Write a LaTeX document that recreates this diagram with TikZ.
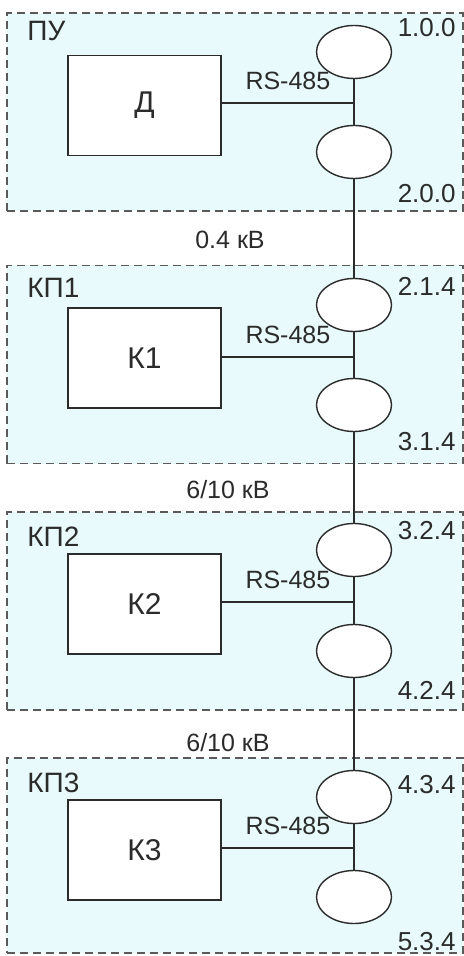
\documentclass[tikz,border=0pt]{standalone}
\usepackage{fontspec}
\setmainfont{Liberation Sans}
\usepackage{tikz}
\usetikzlibrary{shapes.geometric,positioning}
\usepackage{xcolor}
\definecolor{panelcyan}{HTML}{E8FAFC}
\definecolor{panelgray}{HTML}{5A5A5A}
\definecolor{inkgray}{HTML}{2B2B2B}

\begin{document}
\begin{tikzpicture}[
  x=0.5pt, y=-0.5pt,
  panel/.style={draw=panelgray, fill=panelcyan, line width=0.8pt,
    dash pattern=on 4pt off 2.5pt, minimum width=228pt, minimum height=99pt,
    inner sep=0pt},
  unit/.style={draw=inkgray, fill=white, line width=0.8pt,
    minimum width=76.5pt, minimum height=50pt, inner sep=0pt,
    font=\fontsize{15}{17}\selectfont, text=inkgray},
  modem/.style={ellipse, draw=inkgray, fill=white, line width=0.7pt,
    minimum width=37.5pt, minimum height=26.5pt, inner sep=0pt},
  title/.style={anchor=west, inner sep=0pt, font=\fontsize{14}{16}\selectfont,
    text=inkgray},
  addr/.style={anchor=east, inner sep=0pt, font=\fontsize{13}{15}\selectfont,
    text=inkgray},
  tag/.style={inner sep=0pt, font=\fontsize{12.5}{14}\selectfont, text=inkgray},
  wire/.style={draw=inkgray, line width=0.8pt}
]
\useasboundingbox (0,0) rectangle (464,956);
% panels
\node[panel] (pu) at (235,112) {};
\node[panel] (kp1) at (235,364.5) {};
\node[panel] (kp2) at (235,611) {};
\node[panel, minimum height=97.5pt] (kp3) at (235,855.5) {};
\node[title] (pulabel) at (27,31) {ПУ};
\node[title] (kp1label) at (27,288) {КП1};
\node[title] (kp2label) at (27,537) {КП2};
\node[title] (kp3label) at (27,783) {КП3};
% units and modems
\node[unit] (d) at (144.5,105.5) {Д};
\node[unit] (k1) at (144.5,358) {К1};
\node[unit] (k2) at (144.5,604) {К2};
\node[unit] (k3) at (144.5,850) {К3};
\node[modem] (m100) at (354,52) {};
\node[modem] (m200) at (354,152) {};
\node[modem] (m214) at (354,305) {};
\node[modem] (m314) at (354,405) {};
\node[modem] (m324) at (354,550) {};
\node[modem] (m424) at (354,651) {};
\node[modem] (m434) at (354,797) {};
\node[modem] (m534) at (354,897) {};
\node[addr] (a100) at (456,28) {1.0.0};
\node[addr] (a200) at (456,194) {2.0.0};
\node[addr] (a214) at (456,286) {2.1.4};
\node[addr] (a314) at (456,442) {3.1.4};
\node[addr] (a324) at (456,531) {3.2.4};
\node[addr] (a424) at (456,690) {4.2.4};
\node[addr] (a434) at (456,785) {4.3.4};
\node[addr] (a534) at (456,942) {5.3.4};
% junctions on the bus
\coordinate (jpu) at (354,103);
\coordinate (jkp1) at (354,357);
\coordinate (jkp2) at (354,602);
\coordinate (jkp3) at (354,848);
\draw[wire] (m100.south) -- (m200.north);
\draw[wire] (m200.south) -- node[tag, pos=0.62, xshift=-62pt] {0.4 кВ} (m214.north);
\draw[wire] (m214.south) -- (m314.north);
\draw[wire] (m314.south) -- node[tag, pos=0.63, xshift=-63pt] {6/10 кВ} (m324.north);
\draw[wire] (m324.south) -- (m424.north);
\draw[wire] (m424.south) -- node[tag, pos=0.70, xshift=-63pt] {6/10 кВ} (m434.north);
\draw[wire] (m434.south) -- (m534.north);
\draw[wire] (jpu -| d.east) -- node[tag, above=6pt] {RS-485} (jpu);
\draw[wire] (jkp1 -| k1.east) -- node[tag, above=6pt] {RS-485} (jkp1);
\draw[wire] (jkp2 -| k2.east) -- node[tag, above=6pt] {RS-485} (jkp2);
\draw[wire] (jkp3 -| k3.east) -- node[tag, above=6pt] {RS-485} (jkp3);
\end{tikzpicture}
\end{document}
